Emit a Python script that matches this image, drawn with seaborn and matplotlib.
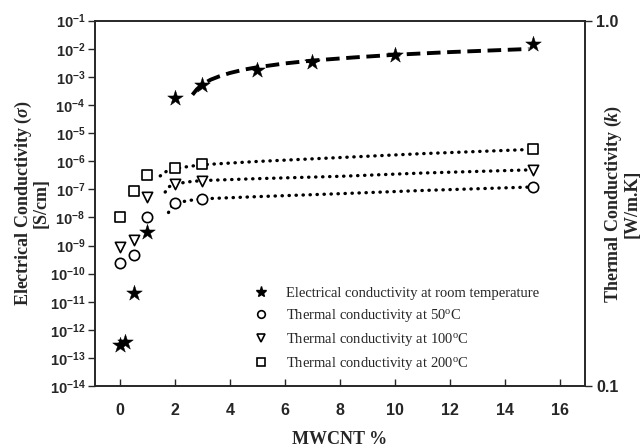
import numpy as np
import pandas as pd
import matplotlib
matplotlib.use("Agg")
import matplotlib.pyplot as plt
import seaborn as sns
from matplotlib.lines import Line2D
from matplotlib.ticker import NullLocator, FixedLocator

ec_x = [0, 0.2, 0.5, 1, 2, 3, 5, 7, 10, 15]
ec_y = [2.8e-13, 3.8e-13, 2e-11, 3e-9, 1.7e-4, 5e-4, 1.8e-3, 3.5e-3, 6e-3, 1.45e-2]

tc50_x = [0, 0.5, 1, 2, 3, 15]
tc50_y = [2.5e-10, 4.6e-10, 1e-8, 3.3e-8, 4.6e-8, 1.2e-7]

tc100_x = [0, 0.5, 1, 2, 3, 15]
tc100_y = [9e-10, 1.6e-9, 5.5e-8, 1.6e-7, 2.05e-7, 4.9e-7]

tc200_x = [0, 0.5, 1, 2, 3, 15]
tc200_y = [1e-8, 9e-8, 3.2e-7, 5.6e-7, 7.7e-7, 2.7e-6]

fit_ec_x = [2.64, 2.8, 3.0, 3.3, 3.6, 4.0, 4.5, 5.0, 6.0, 7.0, 8.5, 10, 12, 14.85]
fit_ec_y = [2.3e-4, 3.6e-4, 5.4e-4, 7.9e-4, 1.03e-3, 1.37e-3, 1.8e-3, 2.2e-3,
            3.0e-3, 3.8e-3, 4.9e-3, 6.1e-3, 7.6e-3, 9.8e-3]

fit50_x = [1.77, 1.9, 2.0, 2.5, 3.0, 5.0, 8.0, 11.0, 14.85]
fit50_y = [1.5e-8, 2.6e-8, 3.2e-8, 4.0e-8, 4.6e-8, 5.5e-8, 7e-8, 9.1e-8, 1.2e-7]

fit100_x = [1.65, 1.8, 2.0, 2.5, 3.0, 5.0, 8.0, 11.0, 14.85]
fit100_y = [8e-8, 1.25e-7, 1.55e-7, 1.85e-7, 2.05e-7, 2.4e-7, 2.9e-7, 3.8e-7, 4.9e-7]

fit200_x = [1.47, 1.7, 2.0, 2.5, 3.0, 5.0, 8.0, 11.0, 14.85]
fit200_y = [3e-7, 4.4e-7, 5.4e-7, 6.5e-7, 7.5e-7, 9.8e-7, 1.35e-6, 1.86e-6, 2.6e-6]

legend_labels = [
    "Electrical conductivity at room temperature",
    "Thermal conductivity at 50$^{\\mathrm{o}}$C",
    "Thermal conductivity at 100$^{\\mathrm{o}}$C",
    "Thermal conductivity at 200$^{\\mathrm{o}}$C",
]

sns.set_style("ticks")
plt.rcParams["font.family"] = ["Liberation Sans", "DejaVu Sans"]
plt.rcParams["mathtext.fontset"] = "custom"
plt.rcParams["mathtext.it"] = "Liberation Serif:bold:italic"
plt.rcParams["mathtext.rm"] = "Liberation Serif"
plt.rcParams["mathtext.default"] = "regular"

fig = plt.figure(figsize=(6.42, 4.48), dpi=100)
ax = fig.add_axes([0.148, 0.138, 0.763, 0.816])

dot = (0, (0.1, 2.0))
for fx, fy in [(fit50_x, fit50_y), (fit100_x, fit100_y), (fit200_x, fit200_y)]:
    sns.lineplot(x=fx, y=fy, ax=ax, color="black", lw=2.4, linestyle=dot,
                 dash_capstyle="round", sort=False, estimator=None)
sns.lineplot(x=fit_ec_x, y=fit_ec_y, ax=ax, color="black", lw=2.8,
             linestyle=(0, (3.5, 1.7)), sort=False, estimator=None)

mk = dict(s=55, facecolor="white", edgecolor="black", linewidth=1.2, zorder=3)
sns.scatterplot(x=tc50_x, y=tc50_y, ax=ax, marker="o", **mk)
sns.scatterplot(x=tc100_x, y=tc100_y, ax=ax, marker="v", **mk)
sns.scatterplot(x=tc200_x, y=tc200_y, ax=ax, marker="s", **mk)
sns.scatterplot(x=ec_x, y=ec_y, ax=ax, marker="*", s=140, color="black",
                edgecolor="black", linewidth=0.3, zorder=4)

ax.set_yscale("log")
ax.set_ylim(1e-14, 1e-1)
ax.set_xlim(-0.9, 16.9)
ax.set_xticks(range(0, 17, 2))
ax.xaxis.set_ticks_position("bottom")
ax.tick_params(axis="x", direction="in", length=5, width=1, pad=12)
dec = list(range(-14, 0))
ax.yaxis.set_major_locator(FixedLocator([10.0 ** d for d in dec]))
ax.set_yticklabels([f"10$^{{{d}}}$" for d in dec])
ax.yaxis.set_minor_locator(NullLocator())
ax.tick_params(axis="y", direction="out", length=5, width=1, pad=2)
for lab in ax.get_yticklabels():
    lab.set_fontweight("bold")
    lab.set_fontsize(10.5)
for lab in ax.get_xticklabels():
    lab.set_fontweight("bold")
    lab.set_fontsize(11.5)
for sp in ax.spines.values():
    sp.set_linewidth(1.2)

ax.set_xlabel("MWCNT %", fontfamily="Liberation Serif", fontweight="bold",
              fontsize=13, labelpad=9.5)
ax.set_ylabel("Electrical Conductivity ($\\mathit{\\sigma}$)\n[S/cm]",
              fontfamily="Liberation Serif", fontweight="bold", fontsize=13,
              linespacing=0.95)
ax.yaxis.set_label_coords(-0.092, 0.5)

ax2 = ax.twinx()
ax2.set_yscale("log")
ax2.set_ylim(0.1, 1.0)
ax2.yaxis.set_major_locator(FixedLocator([0.1, 1.0]))
ax2.set_yticklabels(["0.1", "1.0"])
ax2.yaxis.set_minor_locator(NullLocator())
ax2.tick_params(axis="y", direction="out", length=5, width=1, pad=3)
for lab in ax2.get_yticklabels():
    lab.set_fontweight("bold")
    lab.set_fontsize(11.5)
ax2.set_ylabel("Thermal Conductivity ($\\mathit{k}$)\n[W/m.K]",
               fontfamily="Liberation Serif", fontweight="bold", fontsize=13,
               linespacing=0.95, rotation=90)
ax2.yaxis.set_label_coords(1.037, 0.5)
for sp in ax2.spines.values():
    sp.set_linewidth(1.2)

handles = [
    Line2D([], [], ls="none", marker="*", color="black", ms=8),
    Line2D([], [], ls="none", marker="o", mfc="white", mec="black", ms=5.5, mew=1.2),
    Line2D([], [], ls="none", marker="v", mfc="white", mec="black", ms=5.5, mew=1.2),
    Line2D([], [], ls="none", marker="s", mfc="white", mec="black", ms=5.5, mew=1.2),
]
ax.legend(handles, legend_labels, loc="upper left", bbox_to_anchor=(0.375, 0.39),
          bbox_transform=fig.transFigure, frameon=False, handlelength=1.0,
          handletextpad=1.2, labelspacing=0.5,
          prop={"family": "Liberation Serif", "size": 10.5})

fig.savefig("out.png", dpi=100)
